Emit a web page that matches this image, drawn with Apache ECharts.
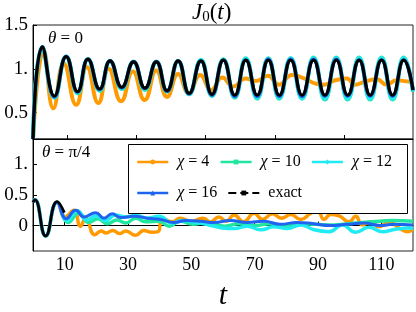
<!DOCTYPE html>
<html><head><meta charset="utf-8">
<script src="https://cdn.jsdelivr.net/npm/echarts@6/dist/echarts.min.js"></script>
<style>html,body{margin:0;padding:0;background:#fff}#c{width:416px;height:312px}</style>
</head><body><div id="c"></div>
<script>
const seriesNames = ['χ = 4', 'χ = 10', 'χ = 12', 'χ = 16', 'exact'];
const topXTicks = [10, 30, 50, 70, 90];
const bottomXTicks = [10, 30, 50, 70, 90, 110];
const topYTicks = [0.5, 1, 1.5];
const bottomYTicks = [0, 0.5, 1];

// theta = 0 panel, [t, value]
const top_chi4 = [[0,0.2],[3.1,1.21],[5.9,0.55],[8.9,1.06],[12.5,0.59],[15.6,1.02],[18.9,0.61],[21.9,1.0],[25.5,0.63],[28.9,0.97],[32.3,0.645],[35.7,0.98],[38.8,0.68],[42.0,0.94],[45.1,0.72],[48.4,0.93],[51.6,0.76],[54.8,0.90],[58.0,0.80],[61.5,0.89],[64.5,0.86],[68.0,0.92],[71.2,0.82],[75.0,0.93],[78.5,0.89],[82.0,0.83],[84.3,0.82],[87.4,0.87],[90.8,0.89],[93.3,0.82],[96.5,0.86],[99.5,0.88],[102.4,0.82],[105.2,0.87],[107.5,0.86],[110,0.85]];
const top_chi10 = [[0,0.2],[2.7,1.25],[6.2,0.67],[9.6,1.14],[12.9,0.72],[15.9,1.11],[19.3,0.75],[22.3,1.09],[25.7,0.77],[29.1,1.08],[32.4,0.76],[35.7,1.08],[38.8,0.74],[42.0,1.09],[45.2,0.71],[48.6,1.10],[51.8,0.69],[55.1,1.11],[58.4,0.67],[61.6,1.12],[64.9,0.66],[68.1,1.12],[71.3,0.66],[74.6,1.12],[77.9,0.66],[81.2,1.13],[84.5,0.65],[87.8,1.13],[91.1,0.65],[94.4,1.13],[97.6,0.65],[100.9,1.13],[104.1,0.65],[107.3,1.13],[110,0.74]];
const top_chi12 = [[0,0.2],[2.7,1.25],[6.2,0.675],[9.6,1.14],[12.9,0.73],[15.9,1.11],[19.3,0.76],[22.3,1.09],[25.7,0.78],[29.1,1.08],[32.4,0.77],[35.7,1.08],[38.8,0.745],[42.0,1.09],[45.2,0.715],[48.6,1.10],[51.8,0.70],[55.1,1.105],[58.4,0.68],[61.6,1.115],[64.9,0.67],[68.1,1.115],[71.3,0.67],[74.6,1.12],[77.9,0.665],[81.2,1.12],[84.5,0.66],[87.8,1.12],[91.1,0.66],[94.4,1.12],[97.6,0.66],[100.9,1.12],[104.1,0.66],[107.3,1.12],[110,0.745]];
const top_chi16 = [[0,0.2],[2.7,1.25],[6.2,0.68],[9.6,1.14],[12.9,0.735],[15.9,1.11],[19.3,0.765],[22.3,1.09],[25.7,0.785],[29.1,1.08],[32.4,0.775],[35.7,1.08],[38.8,0.745],[42.0,1.09],[45.2,0.715],[48.6,1.09],[51.8,0.70],[55.1,1.10],[58.4,0.685],[61.6,1.10],[64.9,0.685],[68.1,1.11],[71.3,0.685],[74.6,1.11],[77.9,0.685],[81.2,1.11],[84.5,0.69],[87.8,1.11],[91.1,0.69],[94.4,1.10],[97.6,0.69],[100.9,1.10],[104.1,0.69],[107.3,1.10],[110,0.755]];
const top_exact = [[0,0.2],[2.7,1.25],[6.2,0.69],[9.6,1.14],[12.9,0.74],[15.9,1.11],[19.3,0.77],[22.3,1.09],[25.7,0.79],[29.1,1.08],[32.4,0.78],[35.7,1.08],[38.8,0.75],[42.0,1.09],[45.2,0.72],[48.6,1.09],[51.8,0.71],[55.1,1.10],[58.4,0.70],[61.6,1.10],[64.9,0.70],[68.1,1.10],[71.3,0.70],[74.6,1.10],[77.9,0.70],[81.2,1.10],[84.5,0.70],[87.8,1.10],[91.1,0.70],[94.4,1.10],[97.6,0.70],[100.9,1.10],[104.1,0.70],[107.3,1.10],[110,0.76]];

// theta = pi/4 panel, [t, value]
const bottom_chi4 = [[0,0.38],[0.6,0.42],[4.0,-0.17],[7.6,0.38],[10.2,0.14],[12.9,0.25],[15.0,-0.01],[16.6,0.12],[19.5,-0.15],[21.5,-0.09],[23.1,-0.12],[25.2,-0.08],[27.3,-0.13],[29.3,-0.09],[32.4,-0.16],[35.0,-0.08],[37.5,-0.11],[39.5,-0.1],[40.8,0.12],[44.0,0.06],[46.5,0.12],[50.0,0.07],[53.6,0.12],[56.0,0.06],[58.7,0.14],[61.0,0.07],[63.5,0.17],[66.5,0.06],[69.8,0.2],[72.5,0.1],[75.6,0.19],[78.5,0.12],[81.4,0.18],[84.5,0.1],[87.7,0.2],[89.8,0.25],[91.9,0.1],[94.0,0.18],[96.6,0.16],[99.8,0.06],[101.9,0.15],[104.0,0.01],[106.6,0.06],[109.3,-0.02],[112.4,0.06],[115.6,-0.04],[118.2,-0.1],[120,-0.06]];
const bottom_chi10 = [[0,0.38],[0.6,0.42],[4.0,-0.17],[7.6,0.38],[11.2,0.05],[14.5,0.21],[17.5,0.05],[20.5,0.11],[23.5,0.03],[26.5,0.09],[29.3,0.04],[32.4,0.12],[35.5,0.06],[39.8,0.07],[43.0,-0.01],[46.5,0.07],[50.5,0.02],[55.0,0.05],[60.6,-0.01],[65.0,0.03],[70.0,0.0],[75.0,0.03],[80.0,-0.01],[85.0,0.03],[89.3,0.02],[95.0,0.01],[101.9,0.04],[107.0,0.06],[113.5,0.08],[120,0.07]];
const bottom_chi12 = [[0,0.38],[0.6,0.42],[4.0,-0.17],[7.6,0.38],[10.8,0.08],[14.0,0.24],[17.0,0.09],[20.0,0.16],[23.0,0.08],[26.0,0.17],[29.3,0.14],[32.4,0.17],[36.0,0.12],[39.8,0.15],[44.0,0.04],[47.0,0.08],[50.3,0.06],[55.6,0.01],[59.8,-0.04],[63.5,-0.05],[67.7,-0.01],[71.9,-0.07],[76.1,-0.02],[80.3,-0.05],[84.5,0.01],[88.8,-0.07],[93.5,-0.1],[97.7,0.01],[101.9,-0.11],[106.1,-0.03],[110.3,-0.1],[114.5,-0.06],[118.7,-0.04],[120,-0.05]];
const bottom_chi16 = [[0,0.38],[0.6,0.42],[4.0,-0.17],[7.6,0.38],[10.5,0.11],[13.5,0.25],[16.1,0.14],[19.8,0.21],[22.4,0.12],[25.0,0.19],[27.6,0.13],[31.9,0.15],[36.1,0.12],[40.3,0.10],[44.5,0.05],[48.2,0.08],[52.9,0.07],[57.1,0.05],[62.4,0.08],[67.6,0.05],[72.9,0.07],[78.1,0.02],[83.4,0.05],[88.6,0.03],[93.9,0.0],[99.1,0.02],[104.4,0.04],[109.6,0.0],[113.8,0.02],[120,0.01]];
const bottom_exact = [[0,0.38],[0.6,0.42],[4.0,-0.17],[7.6,0.39],[9.9,0.21]];

const colors = ['#ff9a00', '#20e6a0', '#20eaf2', '#1f64f0', '#000000'];
const symbols = ['circle', 'rect', 'diamond', 'triangle', 'rect'];
const widths = [4, 4, 4, 3.5, 3.2];
const topData = [top_chi4, top_chi10, top_chi12, top_chi16, top_exact];
const bottomData = [bottom_chi4, bottom_chi10, bottom_chi12, bottom_chi16, bottom_exact];

const FF = 'Liberation Serif';
const chart = echarts.init(document.getElementById('c'));

function mkSeries(data, i, ax) {
  return {
    name: seriesNames[i], type: 'line', xAxisIndex: ax, yAxisIndex: ax,
    data: data, smooth: 0.5, showSymbol: false, symbol: symbols[i],
    lineStyle: { width: ax === 0 ? widths[i] : widths[i] - 0.5, color: colors[i] },
    itemStyle: { color: colors[i] }, z: 2 + i
  };
}
const series = [];
topData.forEach((d, i) => series.push(mkSeries(d, i, 0)));
bottomData.forEach((d, i) => series.push(mkSeries(d, i, 1)));

const yFmt = v => (v === 1 ? '1.' : String(v));
const axisCommon = {
  axisLine: { show: true, lineStyle: { color: '#000', width: 1 } },
  splitLine: { show: false }
};
const legText = {
  fontFamily: FF, fontSize: 16, color: '#000', padding: [0, 0, 0, 4], fontWeight: 'normal',
  rich: { i: { fontFamily: FF, fontSize: 16, fontStyle: 'italic', fontWeight: 'normal', color: '#000' } }
};
const legFmt = n => n.replace('χ', '{i|χ}');
const titleRich = {
  i: { fontFamily: FF, fontStyle: 'italic', fontWeight: 'normal', fontSize: 23, color: '#000' },
  n: { fontFamily: FF, fontWeight: 'normal', fontSize: 23, color: '#000' },
  s: { fontFamily: FF, fontWeight: 'normal', fontSize: 15, color: '#000', verticalAlign: 'bottom', padding: [9, 0, 0, 0] }
};
const smallRich = {
  i: { fontFamily: FF, fontStyle: 'italic', fontWeight: 'normal', fontSize: 17, color: '#000' },
  n: { fontFamily: FF, fontWeight: 'normal', fontSize: 17, color: '#000' }
};

chart.setOption({
  animation: false,
  backgroundColor: '#fff',
  grid: [
    { left: 33, top: 25, width: 380, height: 114, show: true, borderColor: '#222', borderWidth: 1 },
    { left: 33, top: 139, width: 380, height: 114, show: true, borderColor: '#222', borderWidth: 1 }
  ],
  xAxis: [
    Object.assign({ type: 'value', gridIndex: 0, min: 0, max: 110,
      axisTick: { show: true, inside: true, length: 4, customValues: topXTicks, lineStyle: { color: '#000' } },
      axisLabel: { show: false } }, axisCommon),
    Object.assign({ type: 'value', gridIndex: 1, min: 0, max: 120,
      axisTick: { show: true, inside: true, length: 4, customValues: bottomXTicks, lineStyle: { color: '#000' } },
      axisLabel: { show: true, customValues: bottomXTicks, fontFamily: FF, fontSize: 18, color: '#000', margin: 5 },
      name: 't', nameLocation: 'middle', nameGap: 30,
      nameTextStyle: { fontFamily: FF, fontStyle: 'italic', fontSize: 30, color: '#000' } }, axisCommon)
  ],
  yAxis: [
    Object.assign({ type: 'value', gridIndex: 0, min: 0.2, max: 1.5,
      axisTick: { show: true, inside: true, length: 4, customValues: topYTicks, lineStyle: { color: '#000' } },
      axisLabel: { show: true, customValues: topYTicks, formatter: yFmt, fontFamily: FF, fontSize: 19, color: '#000', margin: 5 } }, axisCommon),
    Object.assign({ type: 'value', gridIndex: 1, min: -0.415, max: 1.41,
      axisTick: { show: true, inside: true, length: 4, customValues: bottomYTicks, lineStyle: { color: '#000' } },
      axisLabel: { show: true, customValues: bottomYTicks, formatter: yFmt, fontFamily: FF, fontSize: 19, color: '#000', margin: 5 } }, axisCommon)
  ],
  title: [
    { text: '{i|J}{s|0}{n|(}{i|t}{n|)}', left: 192, top: 1, padding: 0, textStyle: { fontWeight: 'normal', rich: titleRich } },
    { text: '{i|θ}{n| = 0}', left: 48, top: 30, padding: 0, textStyle: { fontWeight: 'normal', rich: smallRich } },
    { text: '{i|θ}{n| = π/4}', left: 42, top: 144, padding: 0, textStyle: { fontWeight: 'normal', rich: smallRich } }
  ],
  graphic: [
    { type: 'rect', shape: { x: 128.5, y: 144.5, width: 279, height: 69 },
      style: { fill: '#fff', stroke: '#000', lineWidth: 1 }, z: 10 }
  ],
  legend: [
    { data: ['χ = 4', 'χ = 10', 'χ = 12'], left: 136, top: 154, padding: 0, itemGap: 10,
      itemWidth: 31, itemHeight: 6, z: 20, formatter: legFmt, textStyle: legText,
      lineStyle: { width: 2.5 } },
    { data: ['χ = 16', { name: 'exact', lineStyle: { type: 'dashed', width: 2 } }], left: 136, top: 185, padding: 0, itemGap: 10,
      itemWidth: 31, itemHeight: 6, z: 20, formatter: legFmt, textStyle: legText,
      lineStyle: { width: 2.5 } }
  ],
  series: series
});
</script>
</body></html>
